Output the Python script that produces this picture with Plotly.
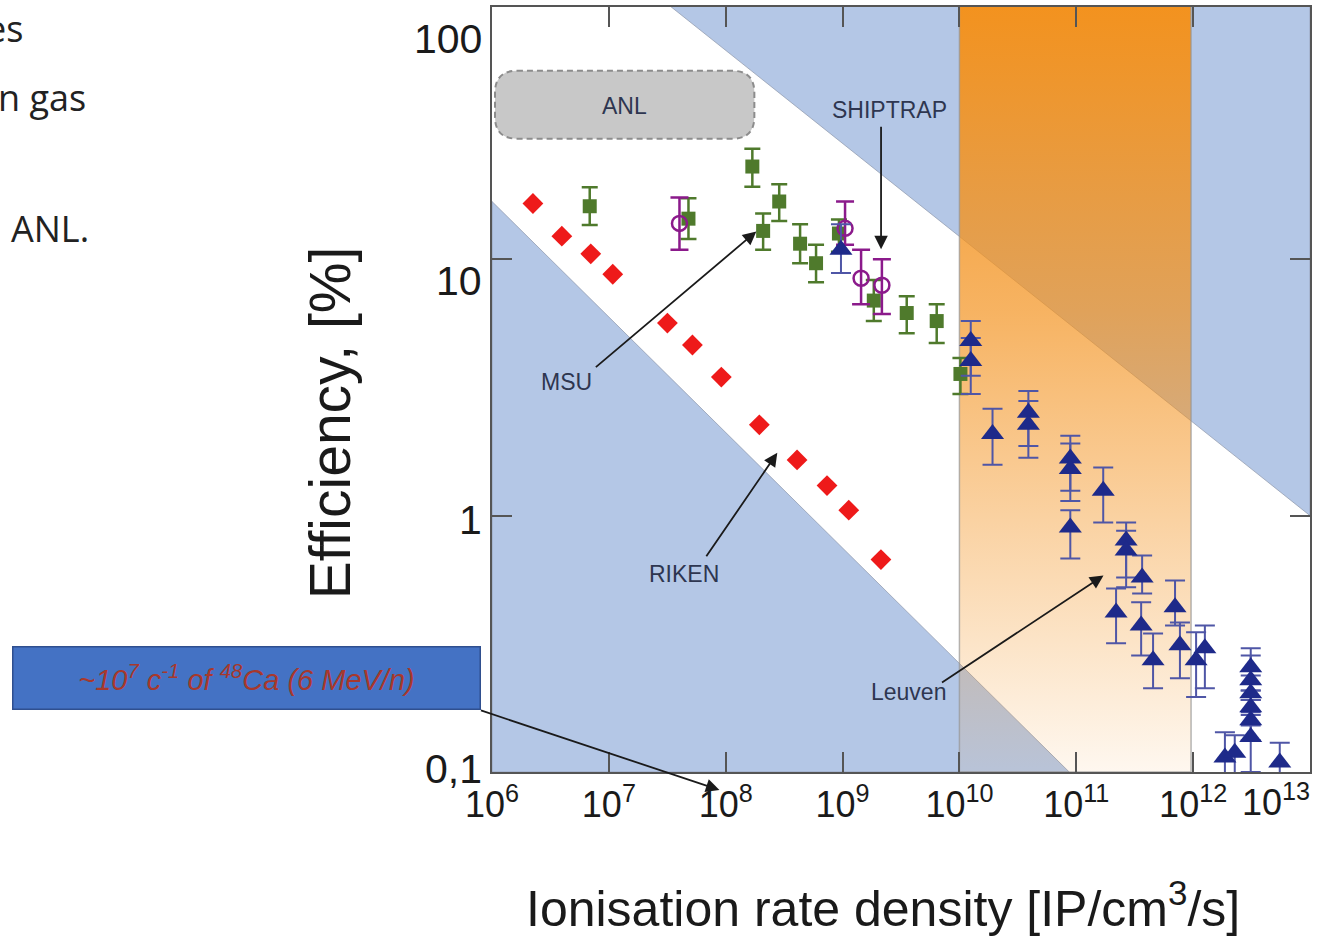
import plotly.graph_objects as go

# ---------------- data ----------------
riken_x = [2.24e6, 3.96e6, 7.0e6, 1.08e7, 3.17e7, 5.19e7, 9.17e7, 1.94e8, 4.08e8, 7.36e8, 1.13e9, 2.13e9]
riken_y = [16.5, 12.3, 10.5, 8.74, 5.64, 4.63, 3.47, 2.26, 1.65, 1.31, 1.05, 0.674]

msu_x = [6.86e6, 4.80e7, 1.69e8, 2.09e8, 2.87e8, 4.33e8, 5.93e8, 9.31e8, 1.85e9, 3.54e9, 6.39e9, 1.02e10]
msu_y = [16.1, 14.4, 23.0, 12.9, 16.8, 11.5, 9.65, 12.6, 6.9, 6.17, 5.74, 3.57]
msu_hi = [19.1, 17.3, 27.0, 15.1, 19.6, 13.7, 11.4, 14.3, 8.3, 7.18, 6.68, 4.12]
msu_lo = [13.6, 12.0, 19.2, 10.9, 14.1, 9.65, 8.14, 10.7, 5.74, 5.15, 4.71, 2.98]

ship_x = [4.02e7, 1.05e9, 1.44e9, 2.17e9]
ship_y = [13.8, 13.2, 8.43, 7.92]
ship_hi = [17.4, 16.8, 10.9, 10.0]
ship_lo = [10.9, 11.4, 6.68, 6.11]

leuven_x = [9.69e8, 1.25e10, 1.25e10, 1.92e10, 3.89e10, 3.89e10, 8.89e10, 8.89e10, 8.89e10,
            1.70e11, 2.67e11, 2.67e11, 3.66e11, 2.19e11, 3.59e11, 4.54e11, 7.0e11, 7.71e11,
            1.06e12, 1.26e12, 3.11e12, 3.11e12, 3.11e12, 3.11e12, 3.11e12, 3.11e12,
            1.87e12, 2.27e12, 5.51e12]
leuven_y = [10.9, 4.80, 4.01, 2.08, 2.52, 2.26, 1.67, 1.52, 0.898,
            1.25, 0.80, 0.731, 0.574, 0.419, 0.373, 0.273, 0.439, 0.312,
            0.273, 0.304, 0.256, 0.228, 0.203, 0.179, 0.159, 0.137,
            0.114, 0.119, 0.109]
leuven_hi = [13.7, 5.74, 4.93, 2.61, 3.06, 2.80, 2.05, 1.91, 1.05,
             1.54, 0.94, 0.874, 0.699, 0.520, 0.459, 0.347, 0.558, 0.383,
             0.351, 0.373, 0.304, 0.285, 0.238, 0.208, 0.191, 0.167,
             0.143, 0.139, 0.130]
leuven_lo = [8.83, 3.51, 2.98, 1.58, 1.87, 1.68, 1.25, 1.14, 0.68,
             0.94, 0.574, 0.525, 0.497, 0.318, 0.285, 0.212, 0.373, 0.232,
             0.196, 0.212, 0.208, 0.191, 0.171, 0.152, 0.133, 0.10,
             0.09, 0.09, 0.09]

# background regions (data coordinates)
upper_blue_x = [3.09e7, 1e13, 1e13]
upper_blue_y = [100, 100, 1.0]
lower_blue_x = [1e6, 8.7e10, 1e6]
lower_blue_y = [16.8, 0.1, 0.1]
band_x = [1e10, 9.6e11]
band_y = [0.1, 100]

x_tickvals = [1e6, 1e7, 1e8, 1e9, 1e10, 1e11, 1e12, 1e13]
x_ticktext = ["10<sup>6</sup>", "10<sup>7</sup>", "10<sup>8</sup>", "10<sup>9</sup>",
              "10<sup>10</sup>", "10<sup>11</sup>", "10<sup>12</sup>", ""]
y_tickvals = [0.1, 1, 10]
y_labels = ["100", "10", "1", "0,1"]

# ---------------- layout geometry ----------------
W, H = 1317, 937
PL, PR, PT, PB = 492, 1312, 5, 772


def px(x):
    return (x - PL) / (PR - PL)


def py(y):
    return (PB - y) / (PB - PT)


ARIAL = "Liberation Sans, Arial, sans-serif"
LABEL_COL = "#2E3650"
BLUE_BG = "#B4C7E6"
TXT = "#1A1A1A"

fig = go.Figure()

# blue regions
fig.add_trace(go.Scatter(x=lower_blue_x + [lower_blue_x[0]], y=lower_blue_y + [lower_blue_y[0]],
                         fill="toself", fillcolor=BLUE_BG, mode="lines",
                         line=dict(color="rgba(140,150,170,0.7)", width=1), hoverinfo="skip"))
fig.add_trace(go.Scatter(x=upper_blue_x + [upper_blue_x[0]], y=upper_blue_y + [upper_blue_y[0]],
                         fill="toself", fillcolor=BLUE_BG, mode="lines",
                         line=dict(color="rgba(140,150,170,0.7)", width=1), hoverinfo="skip"))

# orange gradient band
fig.add_trace(go.Scatter(
    x=[band_x[0], band_x[1], band_x[1], band_x[0], band_x[0]],
    y=[band_y[0], band_y[0], band_y[1], band_y[1], band_y[0]],
    fill="toself", mode="lines",
    line=dict(color="rgba(150,150,150,0.7)", width=1.5),
    fillgradient=dict(type="vertical",
                      colorscale=[[0, "rgba(243,146,30,0.07)"],
                                  [0.6, "rgba(243,146,30,0.70)"],
                                  [1, "rgba(243,146,30,1.0)"]]),
    hoverinfo="skip"))

# data
fig.add_trace(go.Scatter(x=riken_x, y=riken_y, mode="markers", name="RIKEN",
                         marker=dict(symbol="diamond", size=16, color="#EE1A1A")))

fig.add_trace(go.Scatter(
    x=msu_x, y=msu_y, mode="markers", name="MSU",
    marker=dict(symbol="square", size=14, color="#4F7A2C"),
    error_y=dict(type="data", symmetric=False,
                 array=[h - v for h, v in zip(msu_hi, msu_y)],
                 arrayminus=[v - l for l, v in zip(msu_lo, msu_y)],
                 color="#4F7A2C", thickness=2.5, width=8)))

fig.add_trace(go.Scatter(
    x=ship_x, y=ship_y, mode="markers", name="SHIPTRAP",
    marker=dict(symbol="circle-open", size=15, color="#8B1A8B", line=dict(width=2.5)),
    error_y=dict(type="data", symmetric=False,
                 array=[h - v for h, v in zip(ship_hi, ship_y)],
                 arrayminus=[v - l for l, v in zip(ship_lo, ship_y)],
                 color="#8B1A8B", thickness=2.5, width=9)))

fig.add_trace(go.Scatter(
    x=leuven_x, y=leuven_y, mode="markers", name="Leuven",
    marker=dict(symbol="triangle-up", size=20, color="#1E2A8A"),
    error_y=dict(type="data", symmetric=False,
                 array=[h - v for h, v in zip(leuven_hi, leuven_y)],
                 arrayminus=[v - l for l, v in zip(leuven_lo, leuven_y)],
                 color="#4F56A6", thickness=2, width=10)))

# ---------------- annotations ----------------
ann = []


def arrow(head, tail):
    ann.append(dict(x=px(head[0]), y=py(head[1]), xref="paper", yref="paper",
                    ax=tail[0] - head[0], ay=tail[1] - head[1], axref="pixel", ayref="pixel",
                    text="", showarrow=True, arrowhead=2, arrowsize=1.5, arrowwidth=1.8,
                    arrowcolor="#1A1A1A", standoff=0, startstandoff=0))


def label(text, pos, size, color=LABEL_COL, family=ARIAL, xanchor="center", angle=0):
    ann.append(dict(x=px(pos[0]), y=py(pos[1]), xref="paper", yref="paper", text=text,
                    showarrow=False, xanchor=xanchor, yanchor="middle", textangle=angle,
                    font=dict(family=family, size=size, color=color)))


label("SHIPTRAP", (890, 108), 23)
arrow((882, 248), (882, 124))
label("MSU", (567, 381), 23)
arrow((757, 230), (595, 367))
label("RIKEN", (684, 573), 23)
arrow((778, 452), (706, 557))
label("Leuven", (910, 692), 23)
arrow((1105, 575), (942, 683))
label("ANL", (625, 104), 23)

# y tick labels
for txt, ypos in zip(y_labels, [37, 280, 519, 769]):
    label(txt, (484, ypos), 41, color=TXT, xanchor="right")
label("10<sup>13</sup>", (1314, 800), 36, color=TXT, xanchor="right")

# axis titles
label("Efficiency, [%]", (330, 422), 57, color=TXT, angle=-90)
label("Ionisation rate density [IP/cm<sup>3</sup>/s]", (884, 905), 50, color=TXT)

# slide text fragments
label("es", (24, 27), 36, color="#222222", family="Open Sans, sans-serif", xanchor="right")
label("n gas", (87, 96), 36, color="#222222", family="Open Sans, sans-serif", xanchor="right")
label("ANL.", (90, 227), 36, color="#222222", family="Open Sans, sans-serif", xanchor="right")

# blue box with arrow
ann.append(dict(x=px(246), y=py(678), xref="paper", yref="paper",
                text="<i>~10<sup>7</sup> c<sup>-1</sup> of <sup>48</sup>Ca (6 MeV/n)</i>",
                showarrow=False, xanchor="center", yanchor="middle",
                width=464, height=59, bgcolor="#4472C4", bordercolor="#2F4F8F", borderwidth=1.5,
                font=dict(family=ARIAL, size=29, color="#A8382C")))
arrow((720, 790), (480, 710))

# ANL rounded dashed box


def rounded_rect_path(x0, y0, x1, y1, r):
    def P(x, y):
        return f"{px(x):.5f},{py(y):.5f}"
    return (f"M{P(x0 + r, y0)} L{P(x1 - r, y0)} Q{P(x1, y0)} {P(x1, y0 + r)} "
            f"L{P(x1, y1 - r)} Q{P(x1, y1)} {P(x1 - r, y1)} L{P(x0 + r, y1)} "
            f"Q{P(x0, y1)} {P(x0, y1 - r)} L{P(x0, y0 + r)} Q{P(x0, y0)} {P(x0 + r, y0)} Z")


shapes = [dict(type="path", xref="paper", yref="paper",
               path=rounded_rect_path(495, 69, 755, 137, 22),
               fillcolor="#C8C8C8", line=dict(color="#8C8C8C", width=2, dash="6px,4px"),
               layer="above")]

fig.update_layout(
    width=W, height=H,
    margin=dict(l=PL, r=W - PR, t=PT, b=H - PB),
    paper_bgcolor="white", plot_bgcolor="white",
    showlegend=False,
    annotations=ann, shapes=shapes,
    xaxis=dict(type="log", range=[6, 13], tickvals=x_tickvals, ticktext=x_ticktext,
               ticks="inside", ticklen=20, tickwidth=2, tickcolor="#555555",
               showline=True, linecolor="#555555", linewidth=2, mirror="ticks",
               showgrid=False, zeroline=False,
               tickfont=dict(family=ARIAL, size=36, color=TXT)),
    yaxis=dict(type="log", range=[-1, 1.984], tickvals=y_tickvals, showticklabels=False,
               ticks="inside", ticklen=20, tickwidth=2, tickcolor="#555555",
               showline=True, linecolor="#555555", linewidth=2, mirror="ticks",
               showgrid=False, zeroline=False),
)

fig.write_html("out.html", config={"displayModeBar": False},
               post_script="document.body.style.margin='0px';")
